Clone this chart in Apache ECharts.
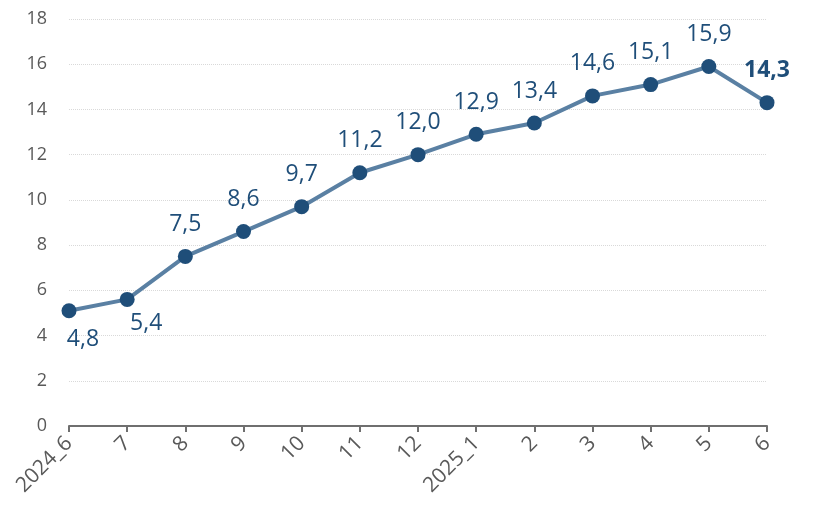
<!DOCTYPE html>
<html>
<head>
<meta charset="utf-8">
<script src="https://cdn.jsdelivr.net/npm/echarts@6/dist/echarts.min.js"></script>
<style>html,body{margin:0;padding:0;background:#fff;}#c{width:839px;height:517px;}</style>
</head>
<body>
<div id="c"></div>
<script>
const categories = ['2024_6','7','8','9','10','11','12','2025_1','2','3','4','5','6'];
const values = [5.1, 5.6, 7.5, 8.6, 9.7, 11.2, 12.0, 12.9, 13.4, 14.6, 15.1, 15.9, 14.3];
const labelTexts = ['4,8','5,4','7,5','8,6','9,7','11,2','12,0','12,9','13,4','14,6','15,1','15,9','14,3'];

const chart = echarts.init(document.getElementById('c'));
const data = values.map((v, i) => {
  const item = { value: v, label: { formatter: labelTexts[i] } };
  if (i === 0) { item.label.position = 'bottom'; item.label.offset = [14, 5]; }
  else if (i === 1) { item.label.position = 'bottom'; item.label.offset = [19, 0]; }
  else { item.label.position = 'top'; item.label.offset = [0, -8]; }
  if (i === values.length - 1) { item.label.fontWeight = 'bold'; item.label.offset = [0, -8]; }
  return item;
});
chart.setOption({
  animation: false,
  grid: { left: 69, right: 72, top: 19, bottom: 91 },
  xAxis: {
    type: 'category', data: categories, boundaryGap: false,
    axisLine: { lineStyle: { color: '#6f6f6f', width: 2 } },
    axisTick: { show: true, alignWithLabel: true, length: 6, lineStyle: { color: '#6f6f6f', width: 2 } },
    axisLabel: { rotate: 45, color: '#595959', fontSize: 21, fontFamily: 'Open Sans', margin: 14 }
  },
  yAxis: {
    type: 'value', min: 0, max: 18, interval: 2,
    axisLine: { show: false }, axisTick: { show: false },
    axisLabel: { color: '#595959', fontSize: 18, fontFamily: 'Open Sans', margin: 22 },
    splitLine: { lineStyle: { color: '#d9d9d9', type: 'dotted', width: 1 } }
  },
  series: [{
    type: 'line', data: data,
    symbol: 'circle', symbolSize: 15,
    lineStyle: { color: '#5a80a3', width: 4 },
    itemStyle: { color: '#1f4e79' },
    label: { show: true, color: '#1f4e79', fontSize: 23, fontFamily: 'Open Sans' }
  }]
});
</script>
</body>
</html>
